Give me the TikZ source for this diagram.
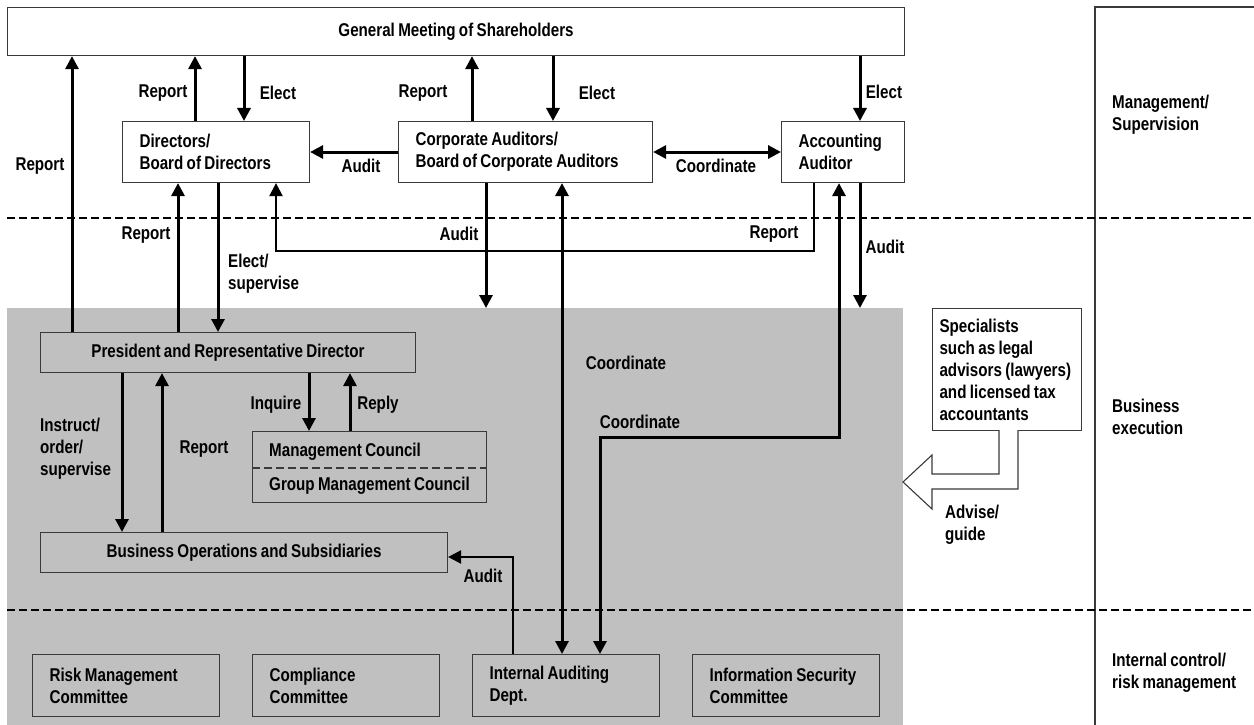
\documentclass[tikz,border=0pt]{standalone}
\usepackage{fontspec}
\setmainfont{Liberation Sans}[FakeStretch=0.82,WordSpace=0.8]
\usetikzlibrary{arrows.meta}
\definecolor{greyfill}{HTML}{C0C0C0}
\definecolor{edge}{HTML}{3A3A3A}
\newcommand\dfont{\fontsize{18.5}{22}\selectfont\bfseries}
\tikzset{
  box/.style={draw=edge, line width=1.1pt, anchor=north west, inner sep=0pt, align=left, font=\dfont, execute at begin node={\spaceskip=0pt\xspaceskip=0pt\relax}},
  lbl/.style={inner sep=0pt, font=\dfont, align=left, execute at begin node={\spaceskip=0pt\xspaceskip=0pt\relax}},
  arr/.style={line width=3pt, -{Triangle[length=13pt,width=13pt]}},
  darr/.style={line width=3pt, {Triangle[length=13pt,width=13pt]}-{Triangle[length=13pt,width=13pt]}},
  sep/.style={line width=1.8pt, dash pattern=on 8pt off 4pt},
}
\begin{document}
\begin{tikzpicture}[x=1pt,y=-1pt]
\useasboundingbox (0,0) rectangle (1254,725);
% background
\fill[greyfill] (7,308) rectangle (903,725);
\draw[edge, line width=1.1pt] (1095,725) -- (1095,7) -- (1254,7);
\draw[sep] (7,218) -- (1254,218);
\draw[sep] (7,610) -- (1254,610);

% boxes
\node[box, fill=white, align=center, minimum width=897pt, minimum height=48pt] (gm) at (7,7) {General Meeting of Shareholders};
\node[box, fill=white, minimum width=187pt, minimum height=61pt, text width=153pt] (dirs) at (122,121) {Directors/\\Board of Directors};
\node[box, fill=white, minimum width=254pt, minimum height=61pt, text width=220pt] (ca) at (398,121) {Corporate Auditors/\\Board of Corporate Auditors};
\node[box, fill=white, minimum width=123pt, minimum height=61pt, text width=89pt] (aa) at (781,121) {Accounting\\Auditor};
\node[box, align=center, minimum width=375pt, minimum height=40pt] (pres) at (40,332) {President and Representative Director};
\node[box, minimum width=234pt, minimum height=71pt] (mc) at (252,431) {};
\draw[edge, line width=1.3pt, dash pattern=on 8pt off 4pt] (mc.west |- 0,468) -- (mc.east |- 0,468);
\node[lbl, anchor=west] (mct) at (269,452) {Management Council};
\node[lbl, anchor=west] (gmct) at (269,486) {Group Management Council};
\node[box, align=center, minimum width=407pt, minimum height=40pt] (bos) at (40,532) {Business Operations and Subsidiaries};
\node[box, minimum width=187pt, minimum height=62pt, text width=153pt] (risk) at (32,654) {Risk Management\\Committee};
\node[box, minimum width=187pt, minimum height=62pt, text width=153pt] (comp) at (252,654) {Compliance\\Committee};
\node[box, minimum width=187pt, minimum height=62pt, text width=153pt] (iad) at (472,654) {Internal Auditing\\Dept.};
\node[box, minimum width=187pt, minimum height=62pt, text width=153pt] (isc) at (692,654) {Information Security\\Committee};
\node[box, fill=white, minimum width=149pt, minimum height=122pt, text width=135pt] (spec) at (932,308) {Specialists\\such as legal\\advisors (lawyers)\\and licensed tax\\accountants};

% hollow advise arrow
\draw[edge, line width=1.1pt, fill=white] (999,430) -- (999,474) -- (932,474) -- (932,455) -- (903,482) -- (932,509) -- (932,489) -- (1018,489) -- (1018,430);
\node[lbl, anchor=west] (adv) at (945,525) {Advise/\\guide};

% connectors: top level
\draw[arr] (pres.north -| 72,0) -- (gm.south -| 72,0);
\node[lbl] (l1) at (40,166) {Report};
\draw[arr] (dirs.north -| 195,0) -- (gm.south -| 195,0);
\node[lbl] (l2) at (163,93) {Report};
\draw[arr] (gm.south -| 244,0) -- (dirs.north -| 244,0);
\node[lbl] (l3) at (278,93) {Elect};
\draw[arr] (ca.west |- 0,152) -- (dirs.east |- 0,152);
\node[lbl] (l4) at (361,166) {Audit};
\draw[arr] (ca.north -| 472,0) -- (gm.south -| 472,0);
\node[lbl] (l5) at (423,93) {Report};
\draw[arr] (gm.south -| 553,0) -- (ca.north -| 553,0);
\node[lbl] (l6) at (597,93) {Elect};
\draw[darr] (ca.east |- 0,152) -- (aa.west |- 0,152);
\node[lbl] (l7) at (716,166) {Coordinate};
\draw[arr] (gm.south -| 860,0) -- (aa.north -| 860,0);
\node[lbl] (l8) at (884,92) {Elect};

% connectors: directors / president
\draw[arr] (pres.north -| 178,0) -- (dirs.south -| 178,0);
\node[lbl] (l9) at (146,235) {Report};
\draw[arr] (dirs.south -| 218,0) -- (pres.north -| 218,0);
\node[lbl, anchor=west] (l10) at (228,274) {Elect/\\supervise};
\draw[arr, line width=2.2pt] (aa.south -| 814,0) -- (814,251) -- (276,251) -- (dirs.south -| 276,0);
\node[lbl] (l11) at (774,234) {Report};
\coordinate (caend) at (486,308);
\draw[arr] (ca.south -| 486,0) -- (caend);
\node[lbl] (l12) at (459,234) {Audit};
\coordinate (aaend) at (860,308);
\draw[arr] (aa.south -| 860,0) -- (aaend);
\node[lbl] (l13) at (885,247) {Audit};
\draw[darr] (iad.north -| 562,0) -- (ca.south -| 562,0);
\node[lbl] (l14) at (626,363) {Coordinate};
\draw[darr] (iad.north -| 600,0) -- (600,437) -- (839,437) -- (aa.south -| 839,0);
\node[lbl] (l15) at (640,422) {Coordinate};

% business execution
\draw[arr] (pres.south -| 122,0) -- (bos.north -| 122,0);
\node[lbl, anchor=west] (l16) at (40,449) {Instruct/\\order/\\supervise};
\draw[arr] (bos.north -| 162,0) -- (pres.south -| 162,0);
\node[lbl] (l17) at (204,449) {Report};
\draw[arr] (pres.south -| 309,0) -- (mc.north -| 309,0);
\node[lbl] (l18) at (276,405) {Inquire};
\draw[arr] (mc.north -| 350,0) -- (pres.south -| 350,0);
\node[lbl] (l19) at (378,405) {Reply};
\draw[arr, line width=2.4pt] (iad.north -| 513,0) -- (513,557) -- (bos.east |- 0,557);
\node[lbl] (l20) at (483,576) {Audit};

% right column labels
\node[lbl, anchor=west] (r1) at (1112,115) {Management/\\Supervision};
\node[lbl, anchor=west] (r2) at (1112,417) {Business\\execution};
\node[lbl, anchor=west] (r3) at (1112,673) {Internal control/\\risk management};
\end{tikzpicture}
\end{document}
